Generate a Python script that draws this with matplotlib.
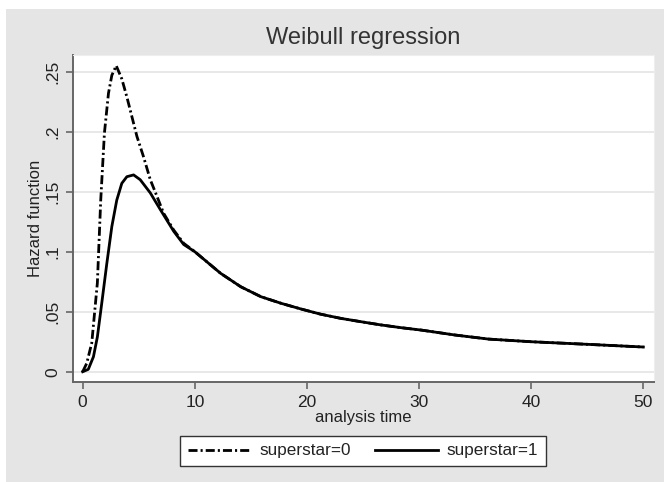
"""Weibull regression hazard functions, superstar=0 vs superstar=1."""
import matplotlib
matplotlib.use("Agg")
import matplotlib.pyplot as plt
from matplotlib.patches import Rectangle

# Hazard values (analysis time, hazard).
t_star0 = [0, 0.36, 0.81, 1.31, 1.61, 1.94, 2.30, 2.60, 2.99, 3.49, 3.94, 4.39,
           4.84, 5.43, 6.03, 6.63, 7.22, 8.12, 9.01, 10]
h_star0 = [0, 0.007, 0.024, 0.074, 0.143, 0.199, 0.232, 0.247, 0.255, 0.244, 0.229,
           0.2125, 0.196, 0.179, 0.160, 0.146, 0.132, 0.118, 0.107, 0.100]

t_star1 = [0, 0.5, 0.96, 1.31, 1.70, 2.15, 2.60, 3.04, 3.49, 3.94, 4.54, 5.13,
           6.03, 6.93, 8.12, 9.01, 10]
h_star1 = [0, 0.002, 0.0125, 0.029, 0.057, 0.090, 0.121, 0.143, 0.157, 0.1625, 0.164,
           0.160, 0.149, 0.135, 0.117, 0.106, 0.100]

# both curves share the same tail after t=10
t_tail = [12.3, 14.1, 15.9, 17.7, 19.5, 21.2, 23.0, 24.8, 26.6, 28.4, 30.2, 33.2,
          36.2, 40, 45.1, 50]
h_tail = [0.082, 0.0708, 0.0625, 0.057, 0.0522, 0.048, 0.0445, 0.0417, 0.039, 0.0367,
          0.0347, 0.0306, 0.0272, 0.025, 0.0228, 0.0206]

x_ticks = [0, 10, 20, 30, 40, 50]
y_ticks = [0, 0.05, 0.1, 0.15, 0.2, 0.25]
y_tick_labels = ["0", ".05", ".1", ".15", ".2", ".25"]
legend_labels = ["superstar=0", "superstar=1"]

plt.rcParams["font.family"] = ["Liberation Sans", "DejaVu Sans"]
plt.rcParams["lines.scale_dashes"] = False

fig = plt.figure(figsize=(6.64, 4.82), dpi=100)
fig.patch.set_facecolor("white")
# gray Stata-style background, with a thin white margin at top and left
fig.patches.append(Rectangle((6 / 664, 0), 1, (482 - 9) / 482, transform=fig.transFigure,
                             facecolor="#e5e5e5", edgecolor="none", zorder=-10))

ax = fig.add_axes([72.7 / 664, 1 - 381.7 / 482, (654 - 72.7) / 664, (381.7 - 55) / 482])
ax.set_facecolor("white")

line0, = ax.plot(t_star0 + t_tail, h_star0 + h_tail, color="black", lw=2.0,
                 dashes=(6.5, 2.2, 1.5, 2.2), zorder=3)
line1, = ax.plot(t_star1 + t_tail, h_star1 + h_tail, color="black", lw=2.0, zorder=3)

ax.set_xlim(-0.89, 50.95)
ax.set_ylim(-0.0083, 0.2639)
ax.set_xticks(x_ticks)
ax.set_yticks(y_ticks)
ax.set_yticklabels(y_tick_labels)
ax.grid(axis="y", color="#e6e6e6", lw=1.3, zorder=0)

for side in ["top", "right"]:
    ax.spines[side].set_color("#eeeeee")
for side in ["left", "bottom"]:
    ax.spines[side].set_color("#666666")
    ax.spines[side].set_linewidth(1.4)

ax.tick_params(axis="both", length=5, width=1.2, color="#666666", labelsize=12.5,
               labelcolor="#222222")
ax.tick_params(axis="x", pad=4.5)
ax.tick_params(axis="y", pad=4, labelrotation=90)
for lbl in ax.get_yticklabels():
    lbl.set_va("center")

ax.set_title("Weibull regression", fontsize=17, color="#333333", pad=8)
ax.set_xlabel("analysis time", fontsize=12, color="#222222")
ax.xaxis.set_label_coords(0.5, -0.086)
ax.set_ylabel("Hazard function", fontsize=12, color="#222222")
ax.yaxis.set_label_coords(-0.051, 0.5)

leg = fig.legend([line0, line1], legend_labels, loc="center",
                 bbox_to_anchor=(363 / 664, 1 - 451 / 482), ncol=2, fontsize=12.3,
                 frameon=True, fancybox=False, framealpha=1, handlelength=3.7,
                 handletextpad=0.5, columnspacing=1.4, borderpad=0.45)
leg.get_frame().set_facecolor("white")
leg.get_frame().set_edgecolor("#333333")
leg.get_frame().set_linewidth(1.0)
for txt in leg.get_texts():
    txt.set_color("#222222")

fig.savefig("out.png", dpi=100)
